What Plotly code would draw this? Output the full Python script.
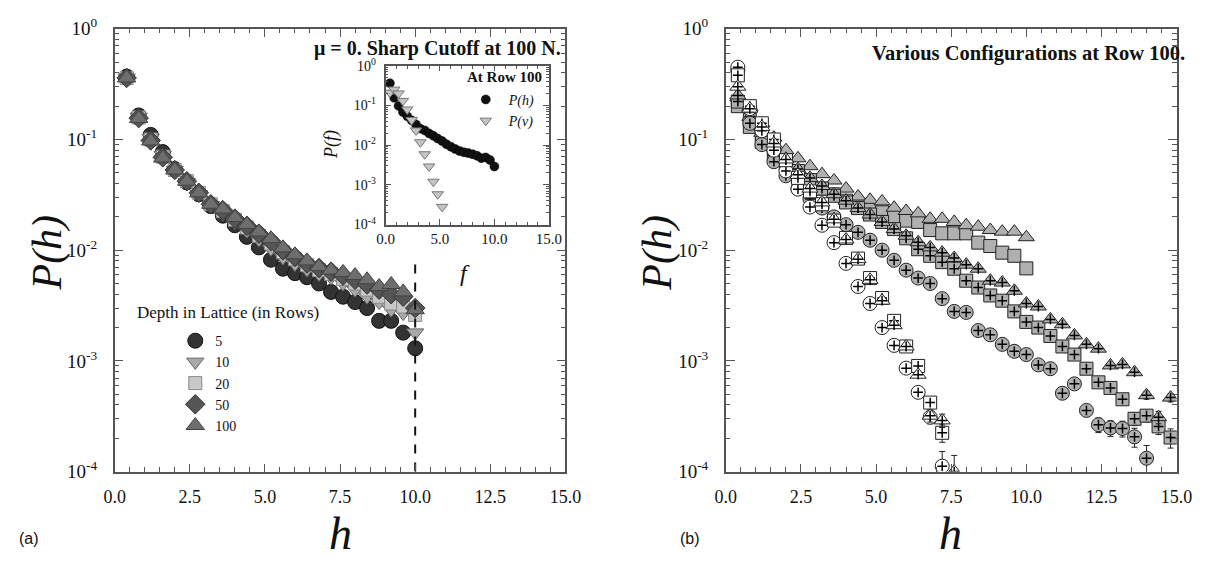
import plotly.graph_objects as go

W, H = 1219, 563

# ---------------- data ----------------
h_left = [0.4, 0.8, 1.2, 1.6, 2.0, 2.4, 2.8, 3.2, 3.6, 4.0, 4.4, 4.8, 5.2, 5.6, 6.0,
          6.4, 6.8, 7.2, 7.6, 8.0, 8.4, 8.8, 9.2, 9.6, 10.0]

depth_5 = [0.37, 0.165, 0.110, 0.077, 0.054, 0.041, 0.032, 0.025, 0.0205, 0.0168, 0.0132, 0.0106,
           0.0082, 0.0068, 0.0062, 0.0057, 0.0050, 0.0042, 0.0038, 0.0034, 0.0030, 0.0023, 0.0023,
           0.0018, 0.0013]
depth_10 = [0.36, 0.160, 0.103, 0.072, 0.053, 0.041, 0.032, 0.0255, 0.0215, 0.0180, 0.0150, 0.0125,
            0.0103, 0.0086, 0.0075, 0.0067, 0.0061, 0.0057, 0.0050, 0.0044, 0.0038, 0.0034, 0.0029,
            0.0027, 0.0018]
depth_20 = [0.36, 0.158, 0.100, 0.070, 0.053, 0.042, 0.033, 0.026, 0.0225, 0.0188, 0.0160, 0.0135,
            0.0115, 0.0096, 0.0083, 0.0073, 0.0066, 0.0061, 0.0055, 0.0050, 0.0044, 0.0038, 0.0033,
            0.0031, 0.0026]
depth_50 = [0.36, 0.156, 0.098, 0.069, 0.053, 0.042, 0.033, 0.026, 0.0230, 0.0193, 0.0166, 0.0141,
            0.0121, 0.0100, 0.0087, 0.0076, 0.0069, 0.0064, 0.0059, 0.0054, 0.0049, 0.0044, 0.0040,
            0.0038, 0.0030]
depth_100 = [0.36, 0.155, 0.097, 0.068, 0.053, 0.042, 0.033, 0.026, 0.0235, 0.0197, 0.0171, 0.0146,
             0.0127, 0.0105, 0.0091, 0.0080, 0.0071, 0.0066, 0.0063, 0.0059, 0.0054, 0.0047, 0.0049,
             0.0042, 0.0029]
cutoff_h = 10.0
cutoff_top = 0.0083

# inset: P(h) and P(v) at row 100
f_v = [0.4, 0.8, 1.2, 1.6, 2.0, 2.4, 2.8, 3.2, 3.6, 4.0, 4.4, 4.8, 5.2]
p_v = [0.21, 0.25, 0.20, 0.13, 0.079, 0.043, 0.0234, 0.0118, 0.0059, 0.0029, 0.0012, 0.00058, 0.00028]

# right panel
h_right = [0.4, 0.8, 1.2, 1.6, 2.0, 2.4, 2.8, 3.2, 3.6, 4.0, 4.4, 4.8, 5.2, 5.6, 6.0, 6.4, 6.8,
           7.2, 7.6, 8.0, 8.4, 8.8, 9.2, 9.6, 10.0, 10.4, 10.8, 11.2, 11.6, 12.0, 12.4, 12.8,
           13.2, 13.6, 14.0, 14.4, 14.8]

open_circle = [0.45, 0.19, 0.12, 0.08, 0.052, 0.0356, 0.0245, 0.0168, 0.0117, 0.0076, 0.0047,
               0.0033, 0.0020, 0.00138, 0.00086, 0.00052, 0.00031, 0.000112]
open_square = [0.38, 0.20, 0.14, 0.10, 0.065, 0.045, 0.034, 0.026, 0.0185, 0.0129, 0.0084, 0.0056,
               0.0037, 0.0023, 0.00135, 0.0009, 0.00042, 0.000224]
open_triangle = [0.30, 0.19, 0.13, 0.092, 0.066, 0.048, 0.036, 0.027, 0.019, 0.0125, 0.0083, 0.0054,
                 0.0035, 0.0021, 0.00135, 0.00075, 0.00032, 0.00029, 0.0001]
dot_circle = [0.42, 0.14, 0.09, 0.063, 0.047, 0.036, 0.029, 0.024, 0.020, 0.017, 0.0145, 0.0123,
              0.0100, 0.0081, 0.0066, 0.0056, 0.0050, 0.00365, 0.0028, 0.00274, 0.00188, 0.00172,
              0.00141, 0.00122, 0.00114, 0.00092, 0.00085, 0.00051, 0.00062, 0.000357, 0.000265,
              0.000248, 0.000245, 0.000206, 0.000132]
dot_square_long = [0.22, 0.15, 0.11, 0.082, 0.064, 0.052, 0.043, 0.036, 0.031, 0.027, 0.024, 0.021,
                   0.018, 0.0155, 0.0128, 0.0102, 0.0089, 0.0078, 0.0068, 0.0053, 0.0046, 0.0039,
                   0.0035, 0.0028, 0.00225, 0.0020, 0.00168, 0.00135, 0.00114, 0.00085, 0.00064,
                   0.00057, 0.00045, 0.00030, 0.00032, 0.000256, 0.000203]
dot_triangle_long = [0.25, 0.16, 0.115, 0.085, 0.067, 0.054, 0.045, 0.038, 0.032, 0.028, 0.024,
                     0.021, 0.018, 0.0155, 0.0135, 0.0118, 0.0106, 0.0095, 0.0085, 0.0074, 0.0068,
                     0.0053, 0.0051, 0.0043, 0.0033, 0.0031, 0.00237, 0.00214, 0.0017, 0.00141,
                     0.00129, 0.00091, 0.00093, 0.00079, 0.00049, 0.00031, 0.000466]
dot_square_short = [0.20, 0.13, 0.095, 0.075, 0.060, 0.050, 0.042, 0.036, 0.032, 0.028, 0.026,
                    0.024, 0.022, 0.020, 0.0185, 0.018, 0.0152, 0.0142, 0.0142, 0.0142, 0.0117,
                    0.0109, 0.0095, 0.0089, 0.00685]
dot_triangle_short = [0.24, 0.196, 0.14, 0.104, 0.080, 0.0676, 0.0574, 0.0486, 0.0426, 0.036,
                      0.0305, 0.0285, 0.0276, 0.0242, 0.0226, 0.0215, 0.0192, 0.0192, 0.0180,
                      0.0168, 0.0163, 0.0152, 0.0147, 0.0147, 0.0131]
err_abs = 4e-5

# ---------------- helpers ----------------
def fx(p):
    return p / W

def fy(p):
    return 1 - p / H

SERIF = "Liberation Serif"
FRAME = "#555555"

fig = go.Figure()

# left panel
left_specs = [
    ("5", depth_5, "circle", 15, "#333333", "#111111"),
    ("10", depth_10, "triangle-down", 15, "#a9a9a9", "#666666"),
    ("20", depth_20, "square", 13, "#c8c8c8", "#8a8a8a"),
    ("50", depth_50, "diamond", 15, "#555555", "#333333"),
    ("100", depth_100, "triangle-up", 16, "#6e6e6e", "#444444"),
]
for name, ys, sym, sz, fc, lc in left_specs:
    fig.add_trace(go.Scatter(
        x=h_left, y=ys, mode="markers", name=name, xaxis="x", yaxis="y",
        marker=dict(symbol=sym, size=sz, color=fc, line=dict(color=lc, width=1)),
        legend="legend"))

fig.add_trace(go.Scatter(
    x=[cutoff_h, cutoff_h], y=[1e-4, cutoff_top], mode="lines", xaxis="x", yaxis="y",
    line=dict(color="#111111", width=2, dash="dash"), showlegend=False, hoverinfo="skip"))

# inset
fig.add_trace(go.Scatter(
    x=h_left, y=depth_100, mode="markers", name="<i>P(h)</i>", xaxis="x3", yaxis="y3",
    marker=dict(symbol="circle", size=9, color="#111111", line=dict(color="#000", width=0.5)),
    legend="legend2"))
fig.add_trace(go.Scatter(
    x=f_v, y=p_v, mode="markers", name="<i>P(v)</i>", xaxis="x3", yaxis="y3",
    marker=dict(symbol="triangle-down", size=10, color="#c4c4c4", line=dict(color="#777777", width=1)),
    legend="legend2"))

# right panel
DOT = "#b0b0b0"
right_specs = [
    (dot_square_short, "square", DOT, False),
    (dot_triangle_short, "triangle-up", DOT, False),
    (dot_square_long, "square", DOT, True),
    (dot_triangle_long, "triangle-up", DOT, True),
    (dot_circle, "circle", DOT, True),
    (open_circle, "circle", "#ffffff", True),
    (open_square, "square", "#ffffff", True),
    (open_triangle, "triangle-up", "#ffffff", True),
]
for ys, sym, fc, plus in right_specs:
    xs = h_right[:len(ys)]
    fig.add_trace(go.Scatter(
        x=xs, y=ys, mode="markers", xaxis="x2", yaxis="y2", showlegend=False,
        marker=dict(symbol=sym, size=14 if sym != "square" else 13, color=fc,
                    line=dict(color="#222222", width=1)),
        error_y=dict(type="constant", value=err_abs, color="#222222", thickness=1, width=3)
        if plus else None))
    if plus:
        fig.add_trace(go.Scatter(
            x=xs, y=ys, mode="markers", xaxis="x2", yaxis="y2", showlegend=False,
            hoverinfo="skip",
            marker=dict(symbol="cross-thin", size=7, line=dict(color="#000000", width=1.5))))

# ---------------- axes ----------------
ytv = [1e-4, 1e-3, 1e-2, 1e-1, 1]
ytt = ["10<sup>-4</sup>", "10<sup>-3</sup>", "10<sup>-2</sup>", "10<sup>-1</sup>", "10<sup>0</sup>"]

def xax(domain, anchor, dtick, minor, lab, ticklen, standoff):
    return dict(domain=domain, anchor=anchor, range=[0, 15], tick0=0, dtick=dtick,
                tickformat=".1f", ticks="inside", ticklen=ticklen, tickcolor=FRAME,
                minor=dict(dtick=minor, ticks="inside", ticklen=ticklen * 0.55, tickcolor=FRAME),
                showline=True, linecolor=FRAME, linewidth=1.5, mirror="ticks",
                showgrid=False, zeroline=False, ticklabelstandoff=standoff,
                tickfont=dict(family=SERIF, size=lab, color="#111"))

def yax(domain, anchor, lab, ticklen, standoff):
    return dict(domain=domain, anchor=anchor, type="log", range=[-4, 0],
                tickmode="array", tickvals=ytv, ticktext=ytt,
                ticks="inside", ticklen=ticklen, tickcolor=FRAME,
                minor=dict(dtick="D1", ticks="inside", ticklen=ticklen * 0.5, tickcolor=FRAME),
                showline=True, linecolor=FRAME, linewidth=1.5, mirror="ticks",
                showgrid=False, zeroline=False, ticklabelstandoff=standoff,
                tickfont=dict(family=SERIF, size=lab, color="#111"))

main_y = [fy(479), fy(16.5)]
fig.update_layout(
    width=W, height=H, autosize=False,
    font=dict(family=SERIF, color="#111"),
    margin=dict(l=0, r=0, t=0, b=0),
    paper_bgcolor="white", plot_bgcolor="rgba(0,0,0,0)",
    xaxis=xax([fx(106), fx(567)], "y", 2.5, 0.5, 18, 8, 8),
    yaxis=yax(main_y, "x", 19, 9, 12),
    xaxis2=xax([fx(731), fx(1192)], "y2", 2.5, 0.5, 18, 8, 8),
    yaxis2=yax(main_y, "x2", 19, 9, 12),
    xaxis3=xax([fx(383), fx(550)], "y3", 5, 1, 15, 6, 0),
    yaxis3=yax([fy(221), fy(55)], "x3", 14, 6, 5),
    legend=dict(x=fx(168), y=fy(326), xanchor="left", yanchor="top",
                font=dict(family=SERIF, size=14, color="#111"), bgcolor="rgba(0,0,0,0)",
                itemwidth=30, tracegroupgap=0, borderwidth=0),
    legend2=dict(x=fx(462), y=fy(74), xanchor="left", yanchor="top",
                 font=dict(family=SERIF, size=14, color="#111"), bgcolor="rgba(0,0,0,0)",
                 itemwidth=36, tracegroupgap=0, borderwidth=0),
    showlegend=True,
)

def ann(xp, yp, text, size, xanchor="center", angle=0, family=SERIF):
    fig.add_annotation(x=fx(xp), y=fy(yp), xref="paper", yref="paper", text=text,
                       showarrow=False, xanchor=xanchor, yanchor="middle", textangle=angle,
                       font=dict(family=family, size=size, color="#111"))

ann(436, 37, "<b>μ = 0. Sharp Cutoff at 100 N.</b>", 20)
ann(1041, 42, "<b>Various Configurations at Row 100.</b>", 20.5)
ann(127, 313, "Depth in Lattice (in Rows)", 17, "left")
ann(505, 67, "<b>At Row 100</b>", 15)
ann(37, 250, "<i>P(h)</i>", 42, angle=-90)
ann(661, 250, "<i>P(h)</i>", 42, angle=-90)
ann(337, 544, "<i>h</i>", 46)
ann(961, 544, "<i>h</i>", 46)
ann(327, 137, "<i>P(f)</i>", 18, angle=-90)
ann(464, 272, "<i>f</i>", 24)
ann(18, 549, "(a)", 16, family="Liberation Sans")
ann(694, 549, "(b)", 16, family="Liberation Sans")

fig.write_html("out.html", config={"displayModeBar": False},
               post_script="document.body.style.margin='0';document.body.style.overflow='hidden';")
